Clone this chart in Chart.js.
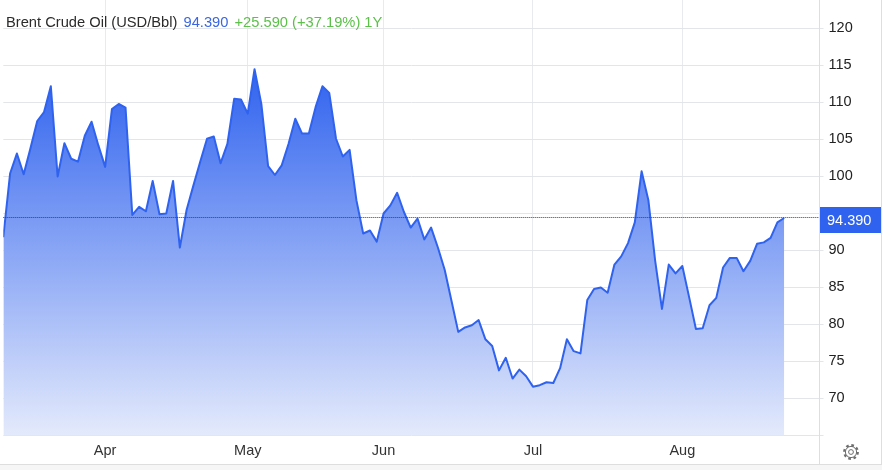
<!DOCTYPE html>
<html>
<head>
<meta charset="utf-8">
<title>Brent Crude Oil</title>
<script src="https://cdn.jsdelivr.net/npm/chart.js@4"></script>
<style>
  html, body { margin: 0; padding: 0; background: #fff; overflow: hidden; }
  #wrap { position: relative; width: 891px; height: 470px; }
  #brent-chart { position: absolute; left: 0; top: 0; }
  #title { position: absolute; left: 6px; top: 14px; font: 14.7px "Liberation Sans", sans-serif; color: #2b2b2b; white-space: nowrap; }
  #title .price { color: #3b66e0; margin-left: 2px; }
  #title .change { color: #5cc04a; margin-left: 2px; }
  #gear { position: absolute; left: 842px; top: 443px; }
</style>
</head>
<body>
<div id="wrap">
  <canvas id="brent-chart" width="891" height="470"></canvas>
  <div id="title">Brent Crude Oil (USD/Bbl) <span class="price">94.390</span> <span class="change">+25.590 (+37.19%) 1Y</span></div>
  <svg id="gear" width="18" height="18" viewBox="0 0 18 18">
    <circle cx="9" cy="9" r="6.6" fill="none" stroke="#6e6e6e" stroke-width="2.6" stroke-dasharray="2.6 2.6"></circle>
    <circle cx="9" cy="9" r="5.6" fill="#fff" stroke="#6e6e6e" stroke-width="1"></circle>
    <circle cx="9" cy="9" r="2.4" fill="none" stroke="#6e6e6e" stroke-width="1"></circle>
  </svg>
</div>
<script>
// daily close
const prices = [
  91.8, 100.4, 103.1, 100.3, 103.8, 107.5, 108.7, 112.2, 100, 104.5,
  102.4, 102, 105.5, 107.4, 104.2, 101.3, 109.1, 109.8, 109.3, 94.8,
  95.9, 95.3, 99.4, 94.9, 95, 99.4, 90.4, 95.5, 98.8, 102,
  105.1, 105.4, 101.8, 104.4, 110.5, 110.4, 108.5, 114.5, 109.8, 101.4,
  100.2, 101.5, 104.4, 107.8, 105.8, 105.8, 109.4, 112.2, 111.3, 105.1,
  102.7, 103.6, 96.8, 92.3, 92.7, 91.2, 95, 96.1, 97.8, 95.2,
  93.1, 94.3, 91.5, 93.1, 90.4, 87.4, 83.2, 79, 79.6, 79.9,
  80.6, 78, 77.1, 73.8, 75.5, 72.7, 73.9, 73, 71.6, 71.8,
  72.2, 72.1, 74.1, 78, 76.4, 76.1, 83.3, 84.8, 85, 84.3,
  88.1, 89.2, 91, 93.8, 100.7, 96.8, 88.6, 82.1, 88.1, 86.9,
  87.9, 83.7, 79.4, 79.5, 82.6, 83.6, 87.7, 89, 89, 87.2,
  88.6, 90.9, 91.1, 91.7, 93.8, 94.39
];
const monthTicks = [15, 36, 56, 78, 100];
const monthLabels = ["Apr", "May", "Jun", "Jul", "Aug"];
const priceTicks = [65, 70, 75, 80, 85, 90, 95, 100, 105, 110, 115, 120];
const hiddenPriceLabels = [65, 95]; // 95 sits under the price tag
const lastLabel = "94.390";

const BLUE = "#2f62ee";

// dotted last-price line, price tag and the frame lines of the axis panel
const lastPricePlugin = {
  id: "lastPrice",
  afterDatasetsDraw(chart) {
    const { ctx, chartArea, scales } = chart;
    const y = Math.floor(scales.y.getPixelForValue(prices[prices.length - 1])) - 0.5;
    ctx.save();
    ctx.strokeStyle = "#1c3f8f";
    ctx.lineWidth = 1;
    ctx.setLineDash([1, 1]);
    ctx.beginPath();
    ctx.moveTo(chartArea.left, y);
    ctx.lineTo(chartArea.right, y);
    ctx.stroke();
    ctx.setLineDash([]);

    ctx.strokeStyle = "#dedede";
    ctx.beginPath();
    ctx.moveTo(819.5, 0);
    ctx.lineTo(819.5, 464);
    ctx.moveTo(881.5, 0);
    ctx.lineTo(881.5, 464);
    ctx.moveTo(0, 464.5);
    ctx.lineTo(882, 464.5);
    ctx.stroke();
    ctx.fillStyle = "#f6f6f6";
    ctx.fillRect(0, 465, 882, 5);

    ctx.fillStyle = BLUE;
    ctx.fillRect(820, y - 10.5, 61, 26);
    ctx.fillStyle = "#fff";
    ctx.font = '14.5px "Liberation Sans", sans-serif';
    ctx.textBaseline = "middle";
    ctx.textAlign = "left";
    ctx.fillText(lastLabel, 827, y + 3);
    ctx.restore();
  },
};

new Chart(document.getElementById("brent-chart").getContext("2d"), {
  type: "line",
  data: {
    datasets: [
      {
        data: prices.map((p, i) => ({ x: i, y: p })),
        borderColor: BLUE,
        borderWidth: 2,
        borderJoinStyle: "round",
        pointRadius: 0,
        tension: 0,
        fill: "start",
        backgroundColor(context) {
          const area = context.chart.chartArea;
          if (!area) return "rgba(47,98,238,0.5)";
          const g = context.chart.ctx.createLinearGradient(0, 68, 0, area.bottom);
          g.addColorStop(0, "rgb(47,98,238)");
          g.addColorStop(1, "rgb(228,234,252)");
          return g;
        },
      },
    ],
  },
  options: {
    responsive: false,
    animation: false,
    layout: { padding: { left: 3.3 } },
    plugins: { legend: { display: false }, tooltip: { enabled: false } },
    scales: {
      x: {
        type: "linear",
        min: 0,
        max: 120.2,
        border: { display: false },
        grid: { color: "#e9eaee", tickLength: 0 },
        afterBuildTicks(scale) {
          scale.ticks = monthTicks.map((v) => ({ value: v }));
        },
        afterFit(scale) {
          scale.height = 34.5;
        },
        ticks: {
          autoSkip: false,
          maxRotation: 0,
          padding: 7,
          color: "#333",
          font: { family: "Liberation Sans", size: 14.5 },
          callback(value) {
            return monthLabels[monthTicks.indexOf(value)];
          },
        },
      },
      y: {
        position: "right",
        min: 65,
        max: 123.85,
        border: { display: false },
        grid: { color: "#e4e5e8", tickLength: 4 },
        afterBuildTicks(scale) {
          scale.ticks = priceTicks.map((v) => ({ value: v }));
        },
        afterFit(scale) {
          scale.width = 71.5;
          scale.paddingTop = 0;
          scale.paddingBottom = 0;
        },
        ticks: {
          autoSkip: false,
          padding: 5,
          color: "#222",
          font: { family: "Liberation Sans", size: 14.5 },
          callback(value) {
            return hiddenPriceLabels.includes(value) ? "" : value;
          },
        },
      },
    },
  },
  plugins: [lastPricePlugin],
});
</script>
</body>
</html>
